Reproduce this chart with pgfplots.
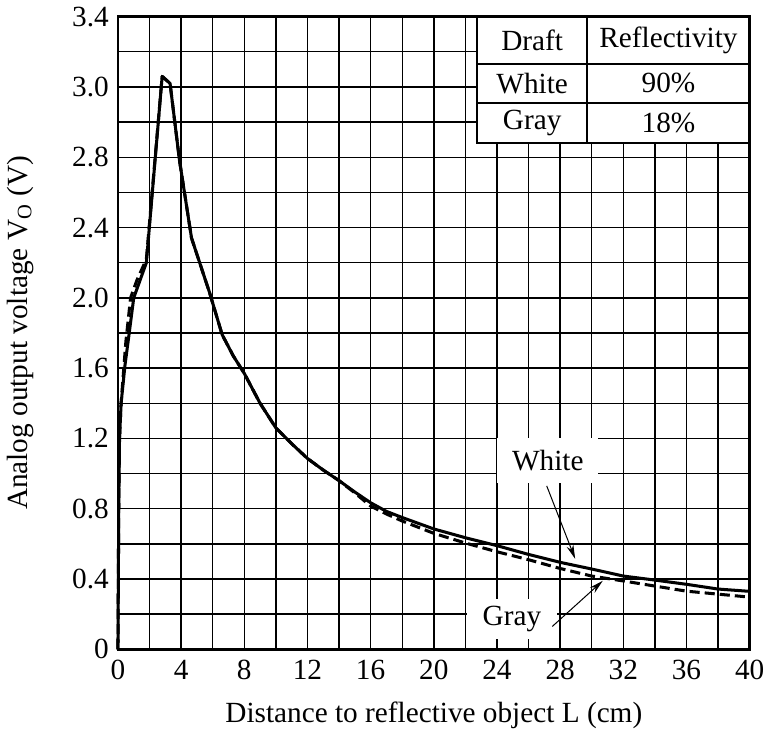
\documentclass[border=0pt]{standalone}
\usepackage{fontspec}
\setmainfont{Liberation Serif}
\usepackage{pgfplots}
\pgfplotsset{compat=1.18}
\usetikzlibrary{arrows.meta}

\begin{document}
\begin{tikzpicture}[font=\fontsize{14.5}{17}\selectfont]
\begin{axis}[
  scale only axis, width=313pt, height=313.5pt,
  xmin=0, xmax=40, ymin=0, ymax=3.6,
  xtick={0,4,8,12,16,20,24,28,32,36,40},
  xticklabels={0,4,8,12,16,20,24,28,32,36,40},
  minor xtick={2,6,10,14,18,22,26,30,34,38},
  ytick={0,0.4,0.8,1.2,1.6,2.0,2.4,2.8,3.2,3.6},
  yticklabels={0,0.4,0.8,1.2,1.6,2.0,2.4,2.8,3.0,3.4},
  minor ytick={0.2,0.6,1.0,1.4,1.8,2.2,2.6,3.0,3.4},
  grid=both,
  grid style={black, line width=0.7pt},
  minor grid style={black, line width=0.7pt},
  axis line style={line width=1.2pt},
  major tick length=0pt, minor tick length=0pt,
  xticklabel style={yshift=-2pt},
  yticklabel style={xshift=-1pt},
  xlabel={Distance to reflective object L (cm)},
  ylabel={Analog output voltage V\textsubscript{O} (V)},
  xlabel style={at={(axis description cs:0.5,-0.105)}, anchor=center},
  ylabel style={at={(axis description cs:-0.155,0.5)}, anchor=center},
  clip=false,
]
% White (90%)
\addplot[black, line width=1.5pt, line join=round] coordinates {
  (0,0)(0.05,0.8)(0.1,1.2)(0.2,1.4)(0.45,1.62)(0.7,1.79)(1.0,2.0)(1.8,2.2)
  (2.8,3.26)(3.3,3.22)(3.9,2.78)(4.66,2.34)(5.8,2.03)
  (6.6,1.79)(7.3,1.67)(8,1.57)(9,1.4)(10,1.26)(11,1.17)(12,1.086)(13,1.02)
  (14,0.96)(15,0.895)(16,0.834)(17,0.785)(18,0.75)(20,0.685)(22,0.635)
  (24,0.59)(26,0.54)(28,0.495)(30,0.457)(32,0.417)(34,0.394)(36,0.37)
  (38,0.343)(40,0.33)};
% Gray (18%)
\addplot[black, line width=1.5pt, line join=round, dash pattern=on 5pt off 2.5pt] coordinates {
  (0,0)(0.05,0.8)(0.1,1.2)(0.2,1.4)(0.5,1.75)(0.8,2.0)(1.2,2.1)(1.8,2.22)
  (2.8,3.26)(3.3,3.22)(3.9,2.78)(4.66,2.34)(5.8,2.03)
  (6.6,1.79)(7.3,1.67)(8,1.57)(9,1.4)(10,1.26)(11,1.17)(12,1.086)(13,1.02)
  (14,0.96)(15,0.89)(16,0.815)(17,0.77)(18,0.73)(20,0.66)(22,0.605)
  (24,0.555)(26,0.51)(28,0.46)(30,0.417)(32,0.389)(34,0.36)(36,0.331)
  (38,0.314)(40,0.297)};

% table
\draw[fill=white, line width=0.7pt] (axis cs:22.75,2.88) rectangle (axis cs:40,3.6);
\draw[line width=0.7pt] (axis cs:22.75,3.109) -- (axis cs:40,3.109);
\draw[line width=0.7pt] (axis cs:22.75,3.331) -- (axis cs:40,3.331);
\draw[line width=0.7pt] (axis cs:29.71,2.88) -- (axis cs:29.71,3.6);
\draw[line width=1.2pt] (axis cs:22.75,2.88) rectangle (axis cs:40,3.6);
\node at (axis cs:26.23,3.466) {Draft};
\node at (axis cs:34.86,3.466) {Reflectivity};
\node at (axis cs:26.23,3.22) {White};
\node at (axis cs:34.86,3.22) {90\%};
\node at (axis cs:26.23,2.995) {Gray};
\node at (axis cs:34.86,2.995) {18\%};

% labels
\node[fill=white, minimum width=50pt, minimum height=22pt, inner sep=0pt] at (axis cs:27.22,1.074) {White};
\draw[line width=0.5pt, -{Stealth[length=7pt,width=3.5pt]}] (axis cs:27.15,0.93) -- (axis cs:28.95,0.515);
\node[fill=white, minimum width=44.5pt, minimum height=20pt, inner sep=0pt] at (axis cs:24.95,0.171) {Gray};
\draw[line width=0.5pt, -{Stealth[length=7pt,width=3.5pt]}] (axis cs:27.5,0.13) -- (axis cs:30.7,0.39);
\end{axis}
\end{tikzpicture}
\end{document}
